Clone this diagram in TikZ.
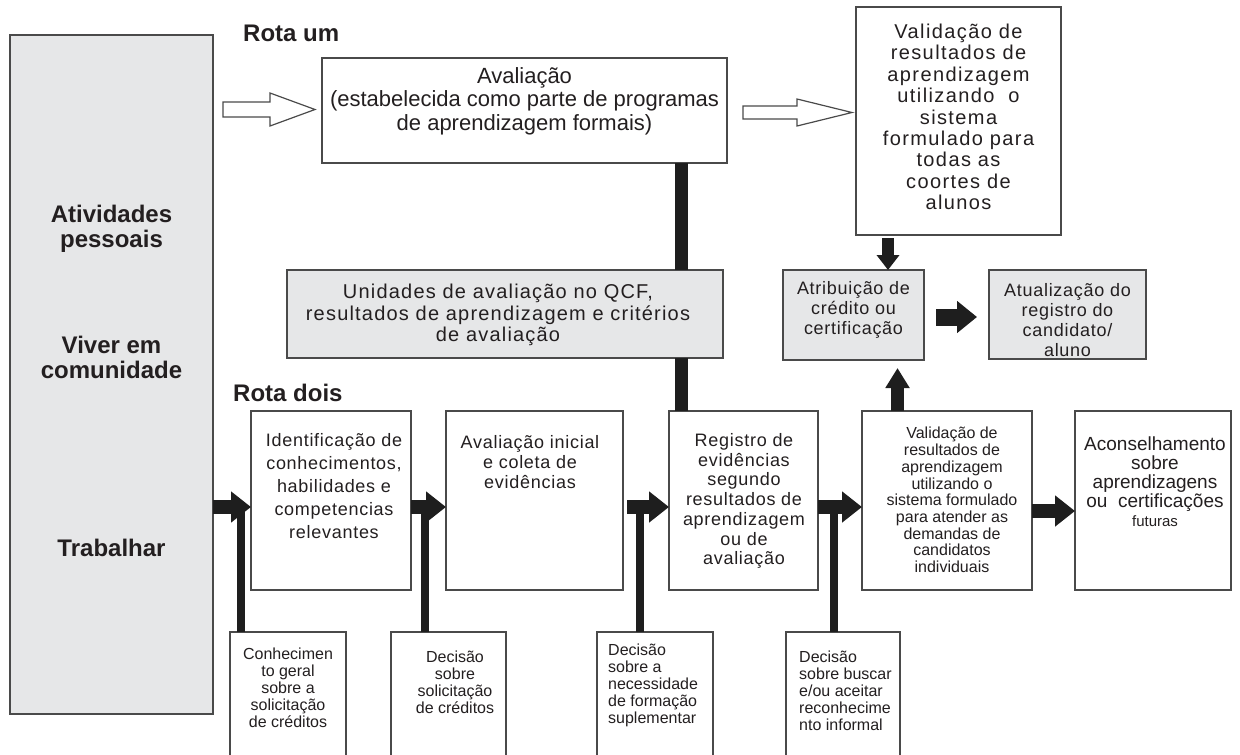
\documentclass[tikz,border=0pt]{standalone}
\usepackage{fontspec}
\setmainfont{Liberation Sans}
\newfontfamily\wideA{Liberation Sans}[LetterSpace=4]
\newfontfamily\wideB{Liberation Sans}[LetterSpace=6]
\newfontfamily\wideC{Liberation Sans}[LetterSpace=7]
\usetikzlibrary{arrows.meta}
\definecolor{boxgray}{HTML}{E6E7E8}
\definecolor{edgec}{HTML}{4A4A4A}
\definecolor{ink}{HTML}{231F20}
\definecolor{barc}{HTML}{1E1E1E}
\newcommand{\setfs}[2]{\fontsize{#1}{#2}\selectfont}
\begin{document}
\begin{tikzpicture}[x=1pt,y=-1pt,
  box/.style={draw=edgec, line width=1.4pt, fill=white, inner sep=0pt, outer sep=0pt},
  gbox/.style={box, fill=boxgray},
  txt/.style={align=center, inner sep=0pt, text=ink},
  ltxt/.style={align=left, inner sep=0pt, text=ink, anchor=west},
  bar/.style={draw=barc, line width=#1},
  bigarr/.style={draw=barc, line width=14pt, -{Triangle[length=20pt,width=30pt]}},
  hollow/.style={draw=edgec, line width=1.2pt, fill=white}]
\useasboundingbox (0,0) rectangle (1240,755);
\clip (0,0) rectangle (1240,755);

% coordinates for connectors
\coordinate (mx) at (681,0);
\coordinate (j1) at (241,507);
\coordinate (j2) at (425,507);
\coordinate (j3) at (640,507);
\coordinate (j4) at (834,507);
\coordinate (dx) at (888,0);
\coordinate (ux) at (897.5,0);
\coordinate (h1) at (223,109.5);
\coordinate (h2) at (743,112.5);

% boxes
\node[gbox, minimum width=203pt, minimum height=679pt] (big) at (111.5,374.5) {};
\node[box, minimum width=405pt, minimum height=105pt] (aval) at (524.5,110.5) {};
\node[box, minimum width=205pt, minimum height=228pt] (valtop) at (958.5,121) {};
\node[gbox, minimum width=436pt, minimum height=88pt] (unid) at (505,314) {};
\node[gbox, minimum width=141pt, minimum height=90pt] (atrib) at (853.5,315) {};
\node[gbox, minimum width=157pt, minimum height=89pt] (atual) at (1067.5,314.5) {};
\node[box, minimum width=160pt, minimum height=179pt] (ident) at (331,500.5) {};
\node[box, minimum width=177pt, minimum height=179pt] (avini) at (534.5,500.5) {};
\node[box, minimum width=149pt, minimum height=179pt] (reg) at (743.5,500.5) {};
\node[box, minimum width=170pt, minimum height=179pt] (valind) at (947,500.5) {};
\node[box, minimum width=156pt, minimum height=179pt] (acons) at (1153,500.5) {};
\node[box, minimum width=116pt, minimum height=148pt] (small1) at (288,706) {};
\node[box, minimum width=115pt, minimum height=148pt] (small2) at (448.5,706) {};
\node[box, minimum width=116pt, minimum height=148pt] (small3) at (655,706) {};
\node[box, minimum width=114pt, minimum height=148pt] (small4) at (843,706) {};

% bars
\draw[bar=13pt] (aval.south -| mx) -- (unid.north -| mx);
\draw[bar=13pt] (unid.south -| mx) -- (reg.north -| mx);
\draw[bar=8pt] (j1) -- (small1.north -| j1);
\draw[bar=8pt] (j2) -- (small2.north -| j2);
\draw[bar=8pt] (j3) -- (small3.north -| j3);
\draw[bar=8pt] (j4) -- (small4.north -| j4);

% thick arrows, route two
\draw[bigarr] (big.east |- 0,507) -- (ident.west |- 0,507);
\draw[bigarr] (ident.east |- 0,507) -- (avini.west |- 0,507);
\draw[bigarr, shorten <=4pt] (avini.east |- 0,507) -- (reg.west |- 0,507);
\draw[bigarr] (reg.east |- 0,507) -- (valind.west |- 0,507);
\draw[bigarr] (valind.east |- 0,511) -- (acons.west |- 0,511);

% arrows around credit boxes
\draw[draw=barc, line width=12pt, -{Triangle[length=15pt,width=22pt]}, shorten <=3pt] (valtop.south -| dx) -- (atrib.north -| dx);
\draw[draw=barc, line width=13pt, -{Triangle[length=20pt,width=23pt]}, shorten >=8pt] (valind.north -| ux) -- (atrib.south -| ux);
\draw[draw=barc, line width=17pt, -{Triangle[length=20pt,width=31pt]}, shorten <=12pt, shorten >=12pt] (atrib.east |- 0,317) -- (atual.west |- 0,317);

% hollow arrows, route one
\draw[hollow] (h1) ++(0,-7.5) -- ++(47,0) -- ++(0,-9) -- ++(45,16.5) -- ++(-45,16.5) -- ++(0,-9) -- ++(-47,0) -- cycle;
\draw[hollow] (h2) ++(0,-6.5) -- ++(54,0) -- ++(0,-7) -- ++(55,13.5) -- ++(-55,13.5) -- ++(0,-7) -- ++(-54,0) -- cycle;

% labels
\node[txt, font=\bfseries\setfs{24}{25}] (t1) at (111.5,229) {Atividades\\pessoais};
\node[txt, font=\bfseries\setfs{24}{25}] (t2) at (111.5,357) {Viver em\\comunidade};
\node[txt, font=\bfseries\setfs{24}{25}] (t3) at (111.5,548) {Trabalhar};
\node[ltxt, font=\bfseries\setfs{24}{25}] (rota1) at (243,33) {Rota um};
\node[ltxt, font=\bfseries\setfs{24}{25}] (rota2) at (233,393) {Rota dois};

\node[txt, font=\setfs{22}{23.5}] (avalt) at (524.5,101) {Avaliação\\(estabelecida como parte de programas\\de aprendizagem formais)};
\node[txt, font=\wideC\setfs{20}{21.4}] (valtopt) at (958.5,117) {Validação de\\resultados de\\aprendizagem\\utilizando\ \ o\\sistema\\formulado para\\todas as\\coortes de\\alunos};
\node[txt, font=\wideB\setfs{20}{21.5}] (unidt) at (498,315) {Unidades de avaliação no QCF,\\resultados de aprendizagem e critérios\\de avaliação};
\node[txt, font=\wideA\setfs{18}{20}] (atribt) at (853.5,310) {Atribuição de\\crédito ou\\certificação};
\node[txt, font=\wideA\setfs{18}{20}] (atualt) at (1067.5,320) {Atualização do\\registro do\\candidato/\\aluno};

\node[txt, font=\wideA\setfs{18}{23}] (identt) at (334,486) {Identificação de\\conhecimentos,\\habilidades e\\competencias\\relevantes};
\node[txt, font=\wideA\setfs{18}{20}] (avinit) at (530,462) {Avaliação inicial\\e coleta de\\evidências};
\node[txt, font=\wideA\setfs{18}{19.7}] (regt) at (744,501) {Registro de\\evidências\\segundo\\resultados de\\aprendizagem\\ou de\\avaliação};
\node[txt, font=\setfs{16}{16.7}] (valindt) at (952,500) {Validação de\\resultados de\\aprendizagem\\utilizando o\\sistema formulado\\para atender as\\demandas de\\candidatos\\individuais};
\node[txt, font=\setfs{19}{19}] (const) at (1155,482) {Aconselhamento\\sobre\\aprendizagens\\ou\ \ certificações\\{\setfs{15}{19}futuras}};

\node[txt, font=\setfs{16}{17}] (s1t) at (288,688) {Conhecimen\\to geral\\sobre a\\solicitação\\de créditos};
\node[txt, font=\setfs{16}{17}] (s2t) at (455,682) {Decisão\\sobre\\solicitação\\de créditos};
\node[ltxt, font=\setfs{16}{17}] (s3t) at (608,685.5) {Decisão\\sobre a\\necessidade\\de formação\\suplementar};
\node[ltxt, font=\setfs{16}{17}] (s4t) at (799,690.5) {Decisão\\sobre buscar\\e/ou aceitar\\reconhecime\\nto informal};
\end{tikzpicture}
\end{document}
